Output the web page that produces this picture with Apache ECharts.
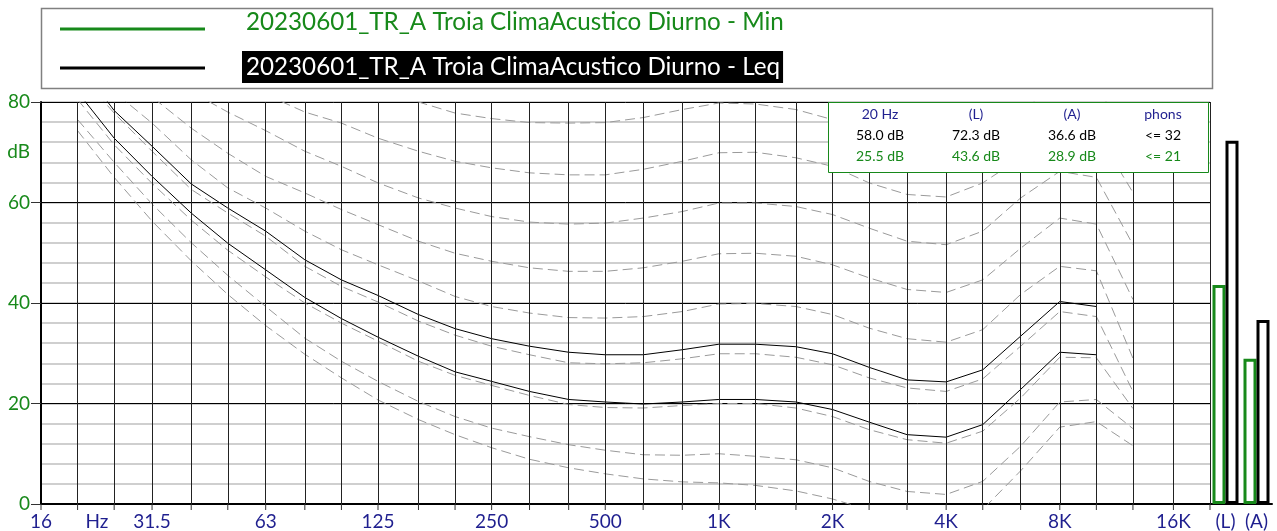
<!DOCTYPE html>
<html><head><meta charset="utf-8">
<script src="https://cdn.jsdelivr.net/npm/echarts@6/dist/echarts.min.js"></script>
<style>html,body{margin:0;padding:0;background:#fff}#c{width:1277px;height:531px}</style>
</head><body><div id="c"></div>
<script>
// ---- data ----
const bandFreqs = [20,25,31.5,40,50,63,80,100,125,160,200,250,315,400,500,630,800,1000,1250,1600,2000,2500,3150,4000,5000,6300,8000,10000,12500];
const gridFreqs = [20,25,31.5,40,50,63,80,100,125,160,200,250,315,400,500,630,800,1000,1250,1600,2000,2500,3150,4000,5000,6300,8000,10000,12500,16000,20000];
const tickFreqs = [16,20,25,31.5,40,50,63,80,100,125,160,200,250,315,400,500,630,800,1000,1250,1600,2000,2500,3150,4000,5000,6300,8000,10000,12500,16000,20000];
const xLabelFreqs = [16,22.5,31.5,63,125,250,500,1000,2000,4000,8000,16000];
const xLabels = ['16','Hz','31.5','63','125','250','500','1K','2K','4K','8K','16K'];
const barCategories = ['(L)','(A)'];

// equal-loudness contours (dB), dashed
const contourT  = [74.3,65.0,56.3,48.4,41.7,35.5,29.8,25.1,20.7,16.8,13.8,11.2,8.9,7.2,6.0,5.0,4.4,4.2,3.7,2.6,1.0,-1.2,-3.6,-3.9,-1.1,6.6,15.3,16.4,11.6];
const contour10 = [76.5,68.0,59.7,52.0,45.5,39.3,33.0,28.4,24.4,20.4,17.4,15.1,13.4,11.8,10.7,9.8,9.7,10.0,9.5,8.8,7.2,4.5,2.5,1.9,4.5,11.5,20.3,20.8,15.0];
const contour20 = [80.5,71.5,63.8,56.5,50.5,45.2,40.0,36.0,32.4,28.4,25.6,23.6,21.6,19.8,19.2,19.1,19.6,20.0,20.0,19.1,17.4,14.8,12.8,12.1,14.5,21.1,29.2,29.1,19.0];
const contour30 = [86.0,77.8,70.2,62.6,57.9,53.3,47.3,43.3,40.2,36.4,33.6,31.4,29.7,28.1,27.9,28.1,28.9,29.9,29.9,29.2,27.7,25.1,23.1,22.4,24.9,31.4,38.3,37.3,22.4];
const contour40 = [90.0,82.0,75.8,68.5,62.9,58.9,54.3,50.6,47.6,44.4,41.3,39.3,38.0,37.1,37.0,37.3,38.3,39.8,39.9,39.3,37.7,35.0,32.9,32.2,34.7,41.7,47.3,46.4,29.0];
const contour50 = [95.0,88.0,81.0,74.8,69.8,65.2,61.9,58.6,55.6,52.3,49.9,48.3,47.0,46.3,46.3,47.0,48.3,49.8,49.9,49.3,47.6,45.0,42.7,42.1,44.6,50.9,56.9,55.7,40.7];
const contour60 = [100,93.0,87.0,82.0,78.0,74.3,70.2,67.2,63.9,60.9,58.9,57.2,56.1,55.7,55.9,56.9,58.2,59.9,59.9,59.2,57.6,54.9,52.3,51.6,54.3,60.9,66.2,65.0,51.6];
const contour70 = [105,99.0,93.0,89.0,85.0,81.5,78.0,75.8,72.8,70.2,68.2,66.9,65.9,65.5,65.5,66.6,68.2,69.9,70.0,68.9,67.2,63.9,61.6,61.1,63.9,68.9,75.0,74.0,62.0];
const contour80 = [110,105,100,96.0,92.0,89.0,86.0,84.0,82.5,80.0,77.8,76.7,75.9,75.8,75.9,76.9,78.5,79.8,79.6,78.5,76.5,73.5,71.2,70.8,73.5,78.0,84.0,83.0,72.0];
// solid contours (Leq <= 32 phons, Min <= 21 phons)
const loudLeq = [88.0,78.3,71.2,63.7,58.9,54.3,48.6,44.6,41.5,37.7,34.9,32.9,31.4,30.2,29.7,29.7,30.7,31.8,31.8,31.3,29.9,27.2,24.7,24.3,26.7,33.4,40.3,39.3];
const loudMin = [82.0,72.8,65.2,57.9,51.9,46.6,41.1,36.9,33.2,29.4,26.3,24.4,22.4,20.8,20.3,19.9,20.3,20.8,20.8,20.3,18.8,16.3,13.8,13.3,15.8,22.8,30.2,29.7];

const seriesNames = ['20230601_TR_A Troia ClimaAcustico Diurno - Min','20230601_TR_A Troia ClimaAcustico Diurno - Leq'];
const barMin = [43.6, 28.9];   // (L), (A)
const barLeq = [72.3, 36.6];
const at20Min = 25.5, at20Leq = 58.0;
const phonsMin = 21, phonsLeq = 32;
const infoHeaders = ['20 Hz','(L)','(A)','phons'];

// ---- styling ----
const GREEN = '#17891a', NAVY = '#1f1f8f', FONT = 'Lato';
const chart = echarts.init(document.getElementById('c'), null, {renderer:'canvas'});

function pts(arr){ return arr.map((v,i)=>[bandFreqs[i], v]); }
const dashed = [contourT,contour10,contour20,contour30,contour40,contour50,contour60,contour70,contour80].map((a,k)=>({
  type:'line', name:'c'+k, xAxisIndex:0, yAxisIndex:0, data:pts(a), symbol:'none', silent:true, z:3,
  lineStyle:{color:'#9a9a9a', width:1, type:[10,5]}
}));
const solid = [loudLeq, loudMin].map((a,k)=>({
  type:'line', name:'loud'+k, xAxisIndex:0, yAxisIndex:0, data:pts(a), symbol:'none', silent:true, z:4,
  lineStyle:{color:'#000', width:1}
}));

const series = [
  {type:'line', name:'grid', xAxisIndex:0, yAxisIndex:0, data:[[16,0]], symbol:'none', silent:true, z:1,
   lineStyle:{width:0},
   markLine:{silent:true, symbol:['none','none'], label:{show:false}, animation:false,
     lineStyle:{color:'#222', width:1, type:'solid'},
     data:gridFreqs.map(f=>({xAxis:f}))}},
  ...dashed, ...solid,
  {type:'custom', name:'ticks', xAxisIndex:0, yAxisIndex:0, silent:true, clip:false, z:5,
   data:tickFreqs.map(f=>[f,0]),
   renderItem:(p,api)=>{ const c=api.coord([api.value(0),0]);
     return {type:'line', shape:{x1:c[0],y1:c[1],x2:c[0],y2:c[1]+6}, style:{stroke:'#333',lineWidth:1}}; }},
  {type:'custom', name:'xlabels', xAxisIndex:0, yAxisIndex:0, silent:true, clip:false, z:5,
   data:xLabelFreqs.map(f=>[f,0]),
   renderItem:(p,api)=>{ const c=api.coord([api.value(0),0]);
     return {type:'text', x:c[0], y:c[1]+8, style:{text:xLabels[p.dataIndex], fill:NAVY, font:'19px '+FONT, align:'center', verticalAlign:'top'}}; }},
  {type:'bar', name:seriesNames[0], xAxisIndex:1, yAxisIndex:3, data:barMin, barWidth:13, barGap:'0%', clip:false,
   itemStyle:{color:'rgba(255,255,255,0)', borderColor:GREEN, borderWidth:3}},
  {type:'bar', name:seriesNames[1], xAxisIndex:1, yAxisIndex:3, data:barLeq, barWidth:13, barGap:'0%', clip:false,
   itemStyle:{color:'rgba(255,255,255,0)', borderColor:'#000', borderWidth:3}}
];

const infoCols = [880, 976, 1072, 1163];
const rowLeq = [at20Leq.toFixed(1)+' dB', barLeq[0].toFixed(1)+' dB', barLeq[1].toFixed(1)+' dB', '<= '+phonsLeq];
const rowMin = [at20Min.toFixed(1)+' dB', barMin[0].toFixed(1)+' dB', barMin[1].toFixed(1)+' dB', '<= '+phonsMin];
const infoTexts = [];
infoHeaders.forEach((t,i)=>infoTexts.push({type:'text', z:101, x:infoCols[i], y:114, style:{text:t, fill:NAVY, font:'14px '+FONT, align:'center', verticalAlign:'middle'}}));
rowLeq.forEach((t,i)=>infoTexts.push({type:'text', z:101, x:infoCols[i], y:135, style:{text:t, fill:'#000', font:'14px '+FONT, align:'center', verticalAlign:'middle'}}));
rowMin.forEach((t,i)=>infoTexts.push({type:'text', z:101, x:infoCols[i], y:156, style:{text:t, fill:GREEN, font:'14px '+FONT, align:'center', verticalAlign:'middle'}}));

const option = {
  animation:false,
  backgroundColor:'#fff',
  grid:[
    {left:41, right:67, top:102, bottom:27, containLabel:false},
    {left:1210, right:5, top:102, bottom:27, containLabel:false}
  ],
  xAxis:[
    {gridIndex:0, type:'log', logBase:10, min:16, max:20000,
     axisLine:{show:true, onZero:false, lineStyle:{color:'#000', width:2}}, axisTick:{show:false}, axisLabel:{show:false}, splitLine:{show:false}, minorSplitLine:{show:false}},
    {gridIndex:1, type:'category', data:barCategories,
     axisLine:{show:true, lineStyle:{color:'#000', width:2}}, axisTick:{show:false},
     axisLabel:{color:NAVY, fontSize:19, fontFamily:FONT, margin:8}}
  ],
  yAxis:[
    {gridIndex:0, type:'value', min:0, max:80, interval:4, position:'left', offset:0,
     axisLine:{show:false}, axisTick:{show:false}, axisLabel:{show:false},
     splitLine:{show:true, lineStyle:{color:'#cfcfcf', width:2}}},
    {gridIndex:0, type:'value', min:0, max:80, interval:10, position:'left', offset:0,
     axisLine:{show:true, lineStyle:{color:'#000', width:2}}, axisTick:{show:false},
     axisLabel:{color:GREEN, fontSize:19, fontFamily:FONT, margin:11,
       formatter:v=> v%20===0 ? String(v) : (v===70 ? 'dB' : '')},
     splitLine:{show:false}},
    {gridIndex:0, type:'value', min:0, max:80, interval:20, position:'left', offset:0,
     axisLine:{show:false}, axisTick:{show:true, length:10, lineStyle:{color:'#333', width:1}}, axisLabel:{show:false},
     splitLine:{show:true, lineStyle:{color:'#000', width:1}}},
    {gridIndex:1, type:'value', min:0, max:80, show:false}
  ],
  series,
  graphic:[
    {type:'rect', z:100, shape:{x:41.5, y:8.5, width:1171, height:80}, style:{fill:'#fff', stroke:'#808080', lineWidth:1.5}},
    {type:'line', z:101, shape:{x1:60, y1:29, x2:205, y2:29}, style:{stroke:GREEN, lineWidth:3}},
    {type:'text', z:101, x:246, y:22, style:{text:seriesNames[0], fill:GREEN, font:'24.2px '+FONT, verticalAlign:'middle'}},
    {type:'line', z:101, shape:{x1:60, y1:68, x2:205, y2:68}, style:{stroke:'#000', lineWidth:3}},
    {type:'text', z:101, x:242, y:67, style:{text:seriesNames[1], fill:'#fff', backgroundColor:'#000', padding:[4,3,4,4], font:'24.2px '+FONT, verticalAlign:'middle'}},
    {type:'rect', z:100, shape:{x:828.5, y:102.5, width:380, height:70}, style:{fill:'#fff', stroke:GREEN, lineWidth:1}},
    ...infoTexts
  ]
};
chart.setOption(option);
</script></body></html>
